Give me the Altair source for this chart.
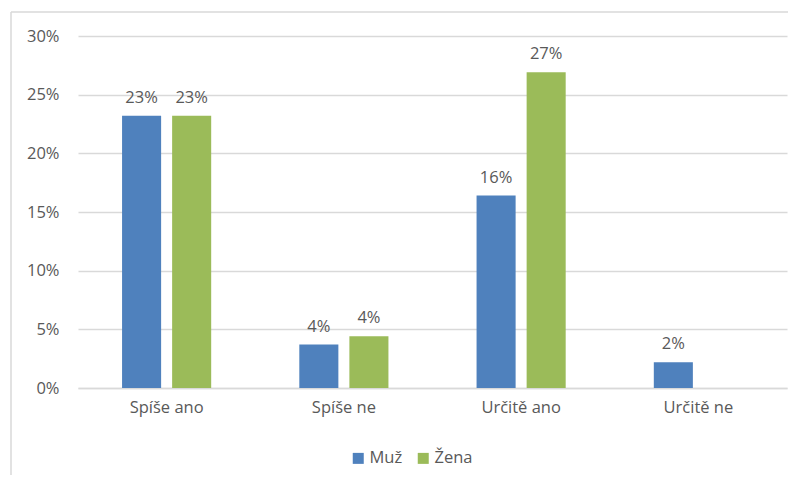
import altair as alt
import pandas as pd

categories = ["Spíše ano", "Spíše ne", "Určitě ano", "Určitě ne"]
muz = [0.232, 0.037, 0.164, 0.022]
zena = [0.232, 0.044, 0.269, 0.0]
series = ["Muž", "Žena"]
colors = ["#4F81BD", "#9BBB59"]
y_ticks = [0, 0.05, 0.10, 0.15, 0.20, 0.25, 0.30]

rows = []
for c, m, z in zip(categories, muz, zena):
    rows.append({"cat": c, "pohlavi": "Muž", "val": m})
    rows.append({"cat": c, "pohlavi": "Žena", "val": z})
df = pd.DataFrame(rows)

FONT = "Open Sans"
FS = 16.5
GRAY = "#595959"
GRID = "#D9D9D9"

x_enc = alt.X("cat:N", sort=categories, title=None,
              scale=alt.Scale(paddingInner=0, paddingOuter=0),
              axis=alt.Axis(labelAngle=0, labelFontSize=FS, labelColor=GRAY, labelFont=FONT,
                            labelPadding=11, ticks=False, grid=False,
                            domainColor=GRID, domainWidth=1.5))
xoff = alt.XOffset("pohlavi:N", sort=series,
                   scale=alt.Scale(paddingInner=0.22, paddingOuter=0.88))
y_enc = alt.Y("val:Q", title=None,
              scale=alt.Scale(domain=[0, 0.30], nice=False),
              axis=alt.Axis(values=y_ticks, format=".0%", labelFontSize=FS, labelColor=GRAY,
                            labelFont=FONT, labelPadding=19, ticks=False, domain=False,
                            gridColor=GRID, gridWidth=1.5))
color = alt.Color("pohlavi:N", sort=series, title=None,
                  scale=alt.Scale(domain=series, range=colors),
                  legend=alt.Legend(orient="none", legendX=272, legendY=414, direction="horizontal",
                                    symbolType="square", symbolSize=121, symbolStrokeWidth=0,
                                    labelFontSize=FS, labelColor=GRAY, labelFont=FONT,
                                    columnPadding=12, labelOffset=3))

base = alt.Chart(df)
bars = base.mark_bar().encode(x=x_enc, xOffset=xoff, y=y_enc, color=color)
labels = base.transform_filter(alt.datum.val > 0).mark_text(
    baseline="bottom", dy=-10, fontSize=FS, color=GRAY, font=FONT
).encode(x=x_enc, xOffset=xoff, y=y_enc, text=alt.Text("val:Q", format=".0%"))

frame_df = pd.DataFrame({"k": [0]})
top_border = alt.Chart(frame_df).mark_rule(color=GRID, strokeWidth=1.5).encode(
    x=alt.value(-67), x2=alt.value(718), y=alt.value(-24))
left_border = alt.Chart(frame_df).mark_rule(color=GRID, strokeWidth=1.5).encode(
    x=alt.value(-67), y=alt.value(-24), y2=alt.value(447))

chart = alt.layer(bars, labels, top_border, left_border).properties(
    width=709, height=352,
    background="white",
    autosize=alt.AutoSizeParams(type="none"),
    padding={"left": 70, "top": 28, "right": 1, "bottom": 87},
).configure_view(stroke="transparent", strokeWidth=0)

chart.save("out.html", embed_options={"renderer": "svg", "actions": False})
